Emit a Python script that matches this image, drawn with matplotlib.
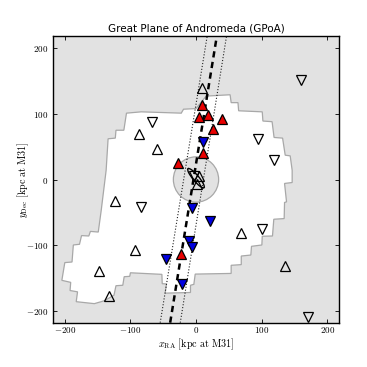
import numpy as np
import matplotlib
matplotlib.use('Agg')
import matplotlib.pyplot as plt
from matplotlib.patches import Polygon, Circle, Ellipse

plt.rcParams['mathtext.fontset'] = 'cm'

# survey footprint outline
foot_x = [-137, -134, -123, -122, -110, -106, -83.5, -22.5, -19, 0, 15.5, 52, 53.6, 64, 65, 101, 102, 116, 119, 132,
          136, 143.6, 146.6, 146.6, 135, 138, 135, 134.4, 118.6, 116.6, 101, 100.4, 84.6, 83.6, 69, 69, 53.6, 53.6,
          -1.2, -3.3, -8.4, -8.4, -47, -45, -51.5, -52, -100, -101, -109.5, -111.6, -122, -125, -139.5, -155,
          -182.6, -180.6, -192, -191, -204.5, -200, -189, -187, -177.6, -174.5, -163.4, -161, -149, -144.5]
foot_y = [14, 62, 63, 75, 75, 101, 103, 101, 107, 108, 127, 129, 117, 117, 104.6, 103, 89, 88, 64, 63,
          37, 36, 14, -4.6, -6, -34, -35, -59.5, -60.5, -86, -86.4, -99.7, -101.7, -115, -116.5, -129.6, -130.6, -143,
          -144, -159.6, -161, -172, -173, -159, -158.6, -144.4, -142, -147.4, -148, -161, -161.7, -176, -184.5, -189,
          -186, -171, -169, -156.6, -153.5, -126.5, -125.6, -99.7, -98.6, -85.4, -86, -79, -80, -47]

# plane lines, x at bottom and top of the axes
plane_y = [-218, 218]
plane_mid = [-39.4, 31.7]
plane_left = [-54.6, 17]
plane_right = [-24, 46.5]

open_up_x = [-87, -60, 9, -123, -93, -147.5, -133, 68, 135, 5, 2]
open_up_y = [69.5, 47, 139, -32, -107, -140, -177, -81, -131.7, 5, -7]
open_down_x = [-67, 160, 95, 119, -83.5, 101, 171.5, -3]
open_down_y = [87, 152, 61.4, 29, -42, -75, -209.4, 5]
red_x = [-26.7, 9, 4, 18, 40, 26, 11.4, -22.6]
red_y = [25, 114, 95.5, 98.5, 92.5, 76.7, 40.6, -114]
blue_x = [10, -6.4, 22, -10, -6.4, -21, -45]
blue_y = [57, -44, -63.6, -93.6, -102, -158.6, -121.5]

ticks = [-200, -100, 0, 100, 200]
tick_labels = ['$%d$' % t for t in ticks]

fig = plt.figure(figsize=(3.67, 3.67), dpi=100)
ax = fig.add_axes([53 / 367, 1 - 322.7 / 367, 286 / 367, 286.4 / 367])
ax.set_facecolor('#e2e2e2')

ax.add_patch(Polygon(np.column_stack([foot_x, foot_y]), closed=True, fc='white', ec='#a8a8a8', lw=0.9, zorder=1))
ax.add_patch(Circle((0, 0), 34.5, fc='#e2e2e2', ec='#a8a8a8', lw=0.9, zorder=2))

ax.plot(plane_left, plane_y, color='#222222', ls=':', lw=0.8, zorder=3)
ax.plot(plane_right, plane_y, color='#222222', ls=':', lw=0.8, zorder=3)
ax.plot(plane_mid, plane_y, color='k', lw=1.8, dashes=(2.5, 1.8), zorder=3)

ax.add_patch(Ellipse((0, 2), 38, 9, angle=-50, fc='none', ec='k', lw=1.0, zorder=4))

ax.plot(open_up_x, open_up_y, '^', ms=6.8, mfc='none', mec='k', mew=0.9, zorder=5)
ax.plot(open_down_x, open_down_y, 'v', ms=6.8, mfc='none', mec='k', mew=0.9, zorder=5)
ax.plot(red_x, red_y, '^', ms=6.8, mfc='#e80000', mec='k', mew=0.9, zorder=6)
ax.plot(blue_x, blue_y, 'v', ms=6.8, mfc='#0000e0', mec='k', mew=0.9, zorder=6)

ax.set_xlim(-218, 218)
ax.set_ylim(-218, 218)
ax.set_xticks(ticks)
ax.set_yticks(ticks)
ax.set_xticklabels(tick_labels)
ax.set_yticklabels(tick_labels)
ax.tick_params(direction='in', top=True, right=True, length=3, width=0.6, labelsize=6.5)
ax.tick_params(axis='x', pad=2)
ax.tick_params(axis='y', pad=3.5)
for s in ax.spines.values():
    s.set_linewidth(1.0)

ax.set_title('Great Plane of Andromeda (GPoA)', fontsize=7.5, pad=3.5)
ax.set_xlabel(r'$x_{\rm RA}\ {\rm [kpc\ at\ M31]}$', fontsize=7.3, labelpad=1.1)
ax.set_ylabel(r'$y_{\rm Dec}\ {\rm [kpc\ at\ M31]}$', fontsize=7.3, labelpad=-3.6)

fig.savefig('out.png', dpi=100)
